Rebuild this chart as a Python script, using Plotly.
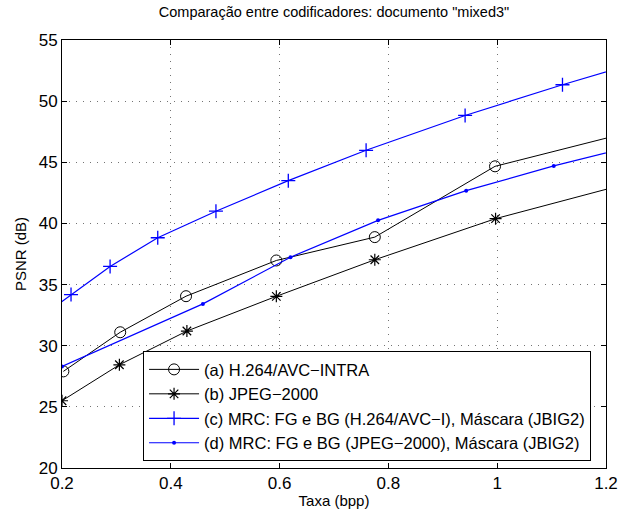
import plotly.graph_objects as go

# Data (bpp, PSNR dB)
a_x = [0.2025, 0.307, 0.428, 0.594, 0.775, 0.996, 1.30]
a_y = [27.9, 31.1, 34.05, 36.97, 38.88, 44.67, 48.1]

b_x = [0.200, 0.3055, 0.4296, 0.594, 0.775, 0.997, 1.30]
b_y = [25.5, 28.44, 31.2, 34.04, 37.03, 40.39, 43.97]

c_x = [0.15, 0.2166, 0.2884, 0.376, 0.483, 0.616, 0.759, 0.941, 1.120, 1.30]
c_y = [32.0, 34.18, 36.48, 38.83, 41.0, 43.5, 45.98, 48.83, 51.34, 53.7]

d_x = [0.200, 0.459, 0.620, 0.781, 0.943, 1.104, 1.30]
d_y = [28.3, 33.42, 37.24, 40.25, 42.68, 44.70, 46.9]

names = [
    "(a) H.264/AVC\u2212INTRA",
    "(b) JPEG\u22122000",
    "(c) MRC: FG e BG (H.264/AVC\u2212I), Máscara (JBIG2)",
    "(d) MRC: FG e BG (JPEG\u22122000), Máscara (JBIG2)",
]

title = 'Comparação entre codificadores: documento "mixed3"'
x_label = "Taxa (bpp)"
y_label = "PSNR (dB)"
x_ticks = [0.2, 0.4, 0.6, 0.8, 1.0, 1.2]
x_ticktext = ["0.2", "0.4", "0.6", "0.8", "1", "1.2"]
y_ticks = [20, 25, 30, 35, 40, 45, 50, 55]

FONT = "Liberation Sans, Arial, Helvetica, sans-serif"
BLUE = "#0000ff"

fig = go.Figure()
fig.add_trace(go.Scatter(x=a_x, y=a_y, name=names[0], mode="lines+markers",
                         line=dict(color="black", width=1),
                         marker=dict(symbol="circle-open", size=11, color="black", line=dict(width=1))))
fig.add_trace(go.Scatter(x=b_x, y=b_y, name=names[1], mode="lines+markers",
                         line=dict(color="black", width=1),
                         marker=dict(symbol="asterisk-open", size=10, color="black", line=dict(width=1.2, color="black"))))
fig.add_trace(go.Scatter(x=c_x, y=c_y, name=names[2], mode="lines+markers",
                         line=dict(color=BLUE, width=1.2),
                         marker=dict(symbol="cross-thin-open", size=10, color=BLUE, line=dict(width=1.3, color=BLUE))))
fig.add_trace(go.Scatter(x=d_x, y=d_y, name=names[3], mode="lines+markers",
                         line=dict(color=BLUE, width=1.2),
                         marker=dict(symbol="circle", size=4, color=BLUE)))

axis_common = dict(
    showline=True, linecolor="black", linewidth=1, mirror="ticks",
    ticks="inside", ticklen=5, tickcolor="black",
    showgrid=True, gridcolor="rgba(0,0,0,0.55)", griddash="1px,6px", gridwidth=1,
    zeroline=False, automargin=False,
    tickfont=dict(size=17, color="black", family=FONT),
)

fig.update_xaxes(range=[0.2, 1.2], tickvals=x_ticks, ticktext=x_ticktext,
                 title=dict(text=x_label, font=dict(size=15, color="black", family=FONT), standoff=3),
                 **axis_common)
fig.update_yaxes(range=[20, 55], tickvals=y_ticks,
                 title=dict(text=y_label, font=dict(size=15, color="black", family=FONT), standoff=8),
                 **axis_common)

fig.update_layout(
    width=620, height=518,
    margin=dict(l=62, r=14, t=40, b=50),
    paper_bgcolor="white", plot_bgcolor="white",
    font=dict(family=FONT, color="black"),
    title=dict(text=title, x=(62 + 606) / 2 / 620, xref="container", xanchor="center",
               y=1 - 12/518, yanchor="middle",
               font=dict(size=14.5, color="black", family=FONT)),
    legend=dict(x=0.149, y=0.016, xanchor="left", yanchor="bottom",
                bgcolor="white", bordercolor="black", borderwidth=1,
                font=dict(size=16.5, color="black", family=FONT),
                itemwidth=50, tracegroupgap=0),
    showlegend=True,
)

fig.write_html("out.html", config={"displayModeBar": False},
               post_script="document.body.style.margin='0';document.body.style.padding='0';")
